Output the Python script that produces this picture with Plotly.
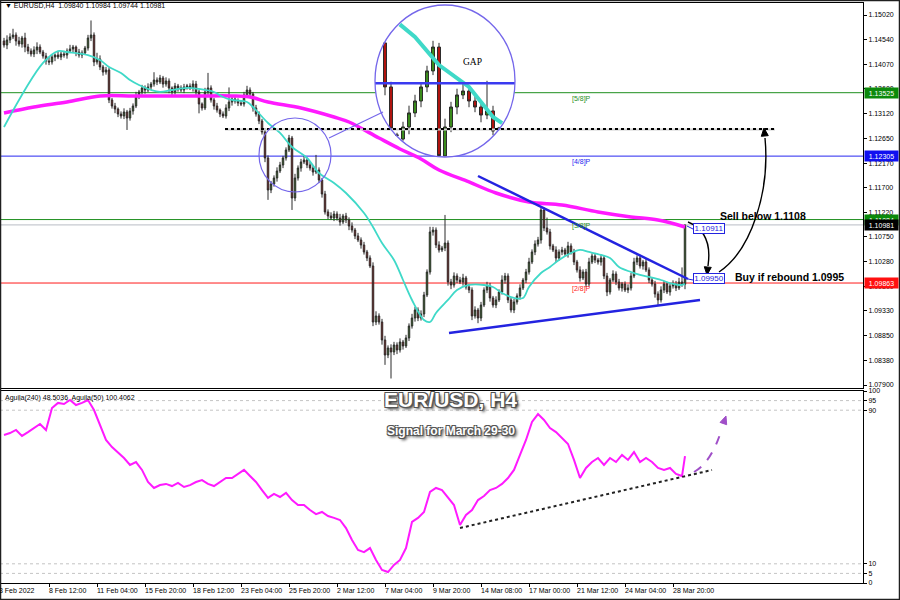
import numpy as np
import plotly.graph_objects as go

# ---------------- data ----------------
close = [
    1.14443, 1.14539, 1.14597, 1.14635, 1.14520, 1.14462, 1.14578, 1.14404, 1.14327, 1.14270,
    1.14347, 1.14404, 1.14308, 1.14231, 1.14135, 1.14116, 1.14212, 1.14250, 1.14212, 1.14270,
    1.14250, 1.14327, 1.14366, 1.14404, 1.14308, 1.14250, 1.14289, 1.14385, 1.14578, 1.14635,
    1.14116, 1.14173, 1.14020, 1.13923, 1.13962, 1.13385, 1.13269, 1.13211, 1.13115, 1.13077,
    1.13154, 1.13038, 1.13173, 1.13269, 1.13462, 1.13539, 1.13616, 1.13577, 1.13635, 1.13692,
    1.13769, 1.13731, 1.13808, 1.13692, 1.13750, 1.13616, 1.13539, 1.13654, 1.13616, 1.13577,
    1.13635, 1.13654, 1.13616, 1.13692, 1.13539, 1.13308, 1.13231, 1.13539, 1.13616, 1.13385,
    1.13269, 1.13192, 1.13115, 1.13077, 1.13231, 1.13346, 1.13404, 1.13365, 1.13327, 1.13308,
    1.13481, 1.13577, 1.13500, 1.13231, 1.13115, 1.12981, 1.12769, 1.12269, 1.11653, 1.11768,
    1.11884, 1.12019, 1.12134, 1.12269, 1.12423, 1.12653, 1.11499, 1.11884, 1.12076, 1.12192,
    1.12230, 1.12134, 1.12076, 1.11999, 1.12038, 1.11845, 1.11576, 1.11230, 1.11153, 1.11114,
    1.11191, 1.11114, 1.11037, 1.11153, 1.11076, 1.10960, 1.10883, 1.10768, 1.10691, 1.10595,
    1.10460, 1.10345, 1.10191, 1.09113, 1.09229, 1.09113, 1.08767, 1.08478, 1.08613, 1.08536,
    1.08671, 1.08575, 1.08728, 1.08652, 1.08806, 1.09036, 1.09190, 1.09344, 1.09190, 1.09267,
    1.09633, 1.10075, 1.10845, 1.10883, 1.10595, 1.10499, 1.10537, 1.10633, 1.09883, 1.09825,
    1.09998, 1.09921, 1.09883, 1.09960, 1.09787, 1.09729, 1.09229, 1.09344, 1.09190, 1.09440,
    1.09729, 1.09806, 1.09575, 1.09440, 1.09537, 1.09691, 1.09921, 1.09998, 1.09537, 1.09344,
    1.09498, 1.09614, 1.09768, 1.09921, 1.10075, 1.10268, 1.10460, 1.10614, 1.10691, 1.11268,
    1.10922, 1.10845, 1.10576, 1.10499, 1.10345, 1.10460, 1.10499, 1.10422, 1.10576, 1.10460,
    1.10268, 1.10114, 1.09960, 1.10075, 1.09844, 1.10268, 1.10383, 1.10306, 1.10268, 1.10345,
    1.09998, 1.09691, 1.09921, 1.10037, 1.09883, 1.09768, 1.09844, 1.09729, 1.09768, 1.09998,
    1.10268, 1.10345, 1.10191, 1.10268, 1.10114, 1.09921, 1.09844, 1.09652, 1.09537, 1.09729,
    1.09844, 1.09691, 1.09806, 1.09844, 1.09768, 1.09883, 1.09840, 1.10981,
]
first_open = 1.14520

# wick lengths above / below the candle body, in pips
upper_wick_pips = [
    6, 9, 7, 12, 5, 8, 4, 10, 6, 5,
    7, 9, 5, 4, 6, 8, 5, 3, 7, 4,
    6, 5, 8, 4, 3, 6, 5, 4, 6, 28,
    5, 12, 7, 4, 6, 5, 4, 6, 3, 5,
    7, 4, 6, 5, 8, 4, 6, 5, 7, 4,
    15, 5, 6, 4, 7, 5, 3, 6, 4, 5,
    6, 4, 5, 7, 6, 4, 3, 8, 29, 5,
    4, 6, 3, 5, 7, 28, 4, 6, 5, 4,
    6, 8, 5, 4, 6, 5, 4, 7, 5, 6,
    5, 7, 6, 4, 5, 6, 4, 8, 5, 6,
    9, 5, 6, 4, 29, 5, 4, 6, 5, 7,
    6, 5, 8, 4, 6, 5, 7, 4, 6, 5,
    6, 4, 5, 7, 9, 5, 6, 8, 5, 7,
    6, 5, 7, 4, 6, 5, 8, 6, 5, 7,
    6, 5, 10, 6, 5, 7, 4, 54, 5, 6,
    7, 5, 6, 8, 4, 6, 5, 7, 4, 6,
    5, 8, 6, 4, 7, 5, 9, 6, 5, 4,
    6, 5, 7, 4, 6, 8, 5, 7, 6, 6,
    5, 20, 6, 4, 7, 5, 6, 4, 8, 5,
    6, 4, 7, 5, 6, 8, 5, 6, 4, 7,
    5, 6, 4, 7, 5, 6, 4, 5, 7, 6,
    8, 5, 6, 4, 7, 5, 4, 6, 5, 7,
    6, 4, 5, 7, 6, 8, 28, 0.3,
]
lower_wick_pips = [
    5, 8, 6, 4, 9, 5, 7, 10, 6, 5,
    6, 8, 4, 5, 7, 6, 5, 8, 4, 6,
    5, 7, 4, 6, 8, 5, 6, 4, 5, 6,
    8, 5, 6, 7, 5, 6, 5, 8, 6, 5,
    6, 23, 5, 7, 4, 6, 5, 7, 4, 6,
    5, 6, 4, 7, 5, 10, 6, 5, 7, 4,
    6, 5, 4, 7, 6, 18, 5, 4, 6, 5,
    7, 5, 6, 4, 5, 6, 7, 5, 6, 4,
    5, 6, 4, 7, 5, 6, 5, 8, 19, 6,
    5, 7, 4, 6, 5, 4, 23, 6, 5, 7,
    4, 6, 5, 7, 4, 6, 7, 5, 6, 4,
    6, 5, 7, 4, 6, 8, 5, 6, 4, 7,
    5, 6, 4, 8, 6, 5, 9, 19, 6, 51,
    6, 8, 5, 7, 4, 6, 5, 7, 6, 5,
    6, 4, 5, 7, 6, 5, 4, 6, 7, 8,
    5, 6, 4, 7, 5, 6, 8, 5, 10, 6,
    4, 6, 7, 5, 6, 4, 5, 7, 6, 5,
    6, 5, 7, 4, 6, 5, 4, 6, 5, 7,
    6, 5, 7, 4, 8, 5, 6, 4, 7, 5,
    6, 5, 7, 4, 6, 5, 4, 6, 5, 7,
    6, 8, 5, 4, 6, 5, 7, 4, 6, 5,
    4, 6, 5, 7, 4, 6, 5, 7, 10, 5,
    6, 4, 7, 5, 6, 4, 5, 9.6,
]

# fast moving average (turquoise), sampled at bar indices
ma_fast_bar = [0, 13, 18, 21, 28, 32, 35, 39, 42, 45, 49, 52, 56, 61, 65, 70, 73, 76, 81, 83,
               88, 92, 96, 101, 105, 110, 114, 120, 123, 126, 130, 133, 136, 140, 142, 144, 148,
               151, 155, 160, 163, 166, 170, 173, 175, 179, 182, 185, 189, 192, 195, 199, 202,
               205, 209, 212, 215, 219, 222, 225, 227]
ma_fast = [1.12865, 1.14097, 1.14327, 1.14308, 1.14250, 1.14154, 1.14020, 1.13904, 1.13769,
           1.13673, 1.13577, 1.13539, 1.13577, 1.13616, 1.13596, 1.13539, 1.13442, 1.13385,
           1.13346, 1.13250, 1.12942, 1.12750, 1.12480, 1.12269, 1.11980, 1.11788, 1.11595,
           1.11210, 1.10941, 1.10633, 1.10306, 1.09921, 1.09537, 1.09152, 1.09113, 1.09286,
           1.09537, 1.09729, 1.09825, 1.09825, 1.09787, 1.09671, 1.09575, 1.09575, 1.09787,
           1.10056, 1.10171, 1.10306, 1.10441, 1.10499, 1.10460, 1.10403, 1.10345, 1.10171,
           1.10075, 1.10018, 1.09979, 1.09921, 1.09863, 1.09825, 1.09844]

# slow moving average (magenta)
ma_slow_bar = [0, 10, 21, 32, 43, 54, 65, 76, 82, 88, 99, 110, 115, 125, 132, 139, 145, 155,
               164, 175, 186, 198, 209, 218, 227]
ma_slow = [1.13134, 1.13250, 1.13346, 1.13462, 1.13462, 1.13462, 1.13462, 1.13462, 1.13442,
           1.13346, 1.13231, 1.13058, 1.12961, 1.12653, 1.12442, 1.12250, 1.12038, 1.11807,
           1.11595, 1.11422, 1.11364, 1.11230, 1.11134, 1.11076, 1.10941]

# oscillator (Aguila), every second bar plus the last one
osc_bar = list(range(0, 228, 2)) + [227]
osc = [77.1, 78.1, 79.7, 76.6, 78.6, 80.7, 82.8, 79.7, 91.1, 93.8,
       93.2, 95.3, 92.7, 93.8, 95.3, 90.1, 82.3, 74.5, 70.8, 68.2,
       65.1, 61.5, 63.0, 58.9, 52.6, 49.5, 51.0, 51.6, 50.5, 52.1,
       50.0, 51.0, 52.6, 53.6, 51.6, 50.5, 52.6, 54.7, 54.7, 56.8,
       58.9, 55.7, 52.6, 48.4, 44.3, 46.4, 44.8, 46.9, 43.2, 40.6,
       40.6, 38.0, 35.9, 37.0, 34.9, 33.9, 32.8, 28.6, 22.4, 17.2,
       16.1, 18.2, 12.0, 6.8, 5.7, 9.4, 12.0, 18.2, 31.8, 33.9,
       37.0, 47.4, 49.5, 48.4, 44.3, 40.6, 30.2, 35.4, 38.0, 43.2,
       45.3, 48.4, 49.5, 51.6, 54.7, 58.9, 66.7, 74.5, 83.9, 88.0,
       84.9, 80.7, 78.6, 75.5, 72.4, 64.1, 54.7, 59.9, 63.0, 65.1,
       61.5, 65.1, 63.0, 66.7, 64.1, 68.2, 63.0, 65.1, 63.0, 59.9,
       58.9, 59.9, 56.8, 55.7, 66.1]

price_ticks = [1.15020, 1.14540, 1.14070, 1.13600, 1.13120, 1.12650, 1.12170, 1.11700,
               1.11220, 1.10750, 1.10280, 1.09800, 1.09330, 1.08850, 1.08380, 1.07900]
osc_ticks = [0, 5, 10, 90, 95, 100]
date_labels = ["8 Feb 12:00", "11 Feb 04:00", "15 Feb 20:00", "18 Feb 12:00", "23 Feb 04:00",
               "25 Feb 20:00", "2 Mar 12:00", "7 Mar 04:00", "9 Mar 20:00", "14 Mar 08:00",
               "17 Mar 00:00", "21 Mar 12:00", "24 Mar 04:00", "28 Mar 20:00"]
first_date_label = "3 Feb 2022"

# Murrey-math style levels: (name, price, colour)
levels = [("[5/8]P", 1.13525, "#1f8f1f"), ("[4/8]P", 1.12305, "#2727f0"),
          ("[3/8]P", 1.11084, "#1f8f1f"), ("[2/8]P", 1.09863, "#ff1a1a")]
bid_price = 1.10981
gap_level = 1.12827
sell_level = 1.10911
buy_level = 1.09950

# ---------------- derived OHLC ----------------
n = len(close)
bars = np.arange(n)
c = np.array(close)
o = np.array([first_open] + close[:-1])
h = np.maximum(o, c) + np.array(upper_wick_pips) / 1e4
l = np.minimum(o, c) - np.array(lower_wick_pips) / 1e4

# ---------------- geometry helpers ----------------
FIG_W, FIG_H = 900, 600
ML, MR, MT, MB = 0, 37, 3, 17
PW, PH = FIG_W - ML - MR, FIG_H - MT - MB


def PX(x):
    return (x - ML) / PW


def PY(y):
    return 1 - (y - MT) / PH


BAR0_PX, BAR_PX = 4, 3
x_range = [(0 - BAR0_PX) / BAR_PX, (PW - BAR0_PX) / BAR_PX]
MAIN_TOP, MAIN_BOT = 3, 388
P_TOP, P_BOT = 1.15251, 1.07843
OSC_TOP, OSC_BOT = 391, 583


def bar_at(xpx):
    return (xpx - BAR0_PX) / BAR_PX


def price_at(ypx):
    return P_TOP - (ypx - MAIN_TOP) * (P_TOP - P_BOT) / (MAIN_BOT - MAIN_TOP)


def paper_path(points, cmd):
    pts = [f"{PX(x):.5f},{PY(y):.5f}" for x, y in points]
    return "M " + pts[0] + f" {cmd} " + " ".join(pts[1:])


def head(tip, direction, length=8, half=3.5):
    dx, dy = direction
    norm = (dx * dx + dy * dy) ** 0.5
    dx, dy = dx / norm, dy / norm
    bx, by = tip[0] - dx * length, tip[1] - dy * length
    p1 = (bx - dy * half, by + dx * half)
    p2 = (bx + dy * half, by - dx * half)
    pts = [tip, p1, p2]
    return "M " + " L ".join(f"{PX(x):.5f},{PY(y):.5f}" for x, y in pts) + " Z"


fig = go.Figure()

CANDLE_STYLE = dict(
    increasing=dict(fillcolor="#3b8e1c", line=dict(color="#2a2a2a", width=1)),
    decreasing=dict(fillcolor="#b3140f", line=dict(color="#2a2a2a", width=1)),
    whiskerwidth=0, hoverinfo="skip", showlegend=False,
)

# main candles and moving averages
fig.add_trace(go.Candlestick(x=bars, open=o, high=h, low=l, close=c,
                             xaxis="x", yaxis="y", **CANDLE_STYLE))
fig.add_trace(go.Scatter(x=ma_slow_bar, y=ma_slow, mode="lines", line_shape="spline",
                         line=dict(color="#ff1aff", width=3.5), xaxis="x", yaxis="y",
                         hoverinfo="skip"))
fig.add_trace(go.Scatter(x=ma_fast_bar, y=ma_fast, mode="lines", line_shape="spline",
                         line=dict(color="#3fd9c8", width=1.8), xaxis="x", yaxis="y",
                         hoverinfo="skip"))

# oscillator
fig.add_trace(go.Scatter(x=osc_bar, y=osc, mode="lines", line=dict(color="#ff1aff", width=2),
                         xaxis="x2", yaxis="y2", hoverinfo="skip"))

# ---------------- magnified inset ("GAP" circle) ----------------
IN_L, IN_R, IN_T, IN_B = 375, 515, 5, 157
MAG = 2.0
src_cx, src_cy = 295, 155
in_half_w = (IN_R - IN_L) / 2 / MAG / BAR_PX
in_xc = bar_at(src_cx)
inset_x = [in_xc - in_half_w, in_xc + in_half_w]
px_per_price = (MAIN_BOT - MAIN_TOP) / (P_TOP - P_BOT)
in_yc = price_at(src_cy)
in_half_h = (IN_B - IN_T) / 2 / MAG / px_per_price
inset_y = [in_yc - in_half_h, in_yc + in_half_h]
RX, RY = (IN_R - IN_L) / 2, (IN_B - IN_T) / 2


def to_inset_px(b, p):
    return ((b - in_xc) * BAR_PX * MAG, (p - in_yc) * px_per_price * MAG * RX / RY)


def from_inset_px(u, v):
    return (in_xc + u / (BAR_PX * MAG), in_yc + v / (px_per_price * MAG * RX / RY))


ib, io, ih, il, ic = [], [], [], [], []
for i in range(n):
    u = (i - in_xc) * BAR_PX * MAG
    if abs(u) >= RX - 1.5:
        continue
    half = (RX * RX - u * u) ** 0.5 - 1
    lo = from_inset_px(u, -half)[1]
    hi = from_inset_px(u, half)[1]
    if h[i] < lo or l[i] > hi:
        continue
    ib.append(i)
    io.append(min(max(o[i], lo), hi))
    ic.append(min(max(c[i], lo), hi))
    ih.append(min(h[i], hi))
    il.append(max(l[i], lo))

fig.add_trace(go.Candlestick(x=ib, open=io, high=ih, low=il, close=ic,
                             xaxis="x3", yaxis="y3", **CANDLE_STYLE))

# turquoise average inside the inset, clipped to the circle
us, vs = zip(*[to_inset_px(b, p) for b, p in zip(ma_fast_bar, ma_fast)])
cu, cv = [], []
for k in range(len(us) - 1):
    x0, y0, x1, y1 = us[k], vs[k], us[k + 1], vs[k + 1]
    dx, dy = x1 - x0, y1 - y0
    a = dx * dx + dy * dy
    b = 2 * (x0 * dx + y0 * dy)
    cc = x0 * x0 + y0 * y0 - (RX - 1) ** 2
    disc = b * b - 4 * a * cc
    if a == 0 or disc <= 0:
        continue
    s = disc ** 0.5
    t0, t1 = max(0.0, (-b - s) / (2 * a)), min(1.0, (-b + s) / (2 * a))
    if t0 >= t1:
        continue
    for t in (t0, t1):
        bb, pp = from_inset_px(x0 + t * dx, y0 + t * dy)
        cu.append(bb)
        cv.append(pp)
fig.add_trace(go.Scatter(x=cu, y=cv, mode="lines", line=dict(color="#3fd9c8", width=4),
                         xaxis="x3", yaxis="y3", hoverinfo="skip"))

shapes = []
annotations = []

# white disc behind the inset data
shapes.append(dict(type="circle", xref="x3", yref="y3", x0=inset_x[0], x1=inset_x[1],
                   y0=inset_y[0], y1=inset_y[1], fillcolor="white", line=dict(width=0),
                   layer="below"))
# [4/8] level seen through the inset
u_lv, v_lv = to_inset_px(0, levels[1][1])
half_chord = (RX * RX - v_lv * v_lv) ** 0.5
shapes.append(dict(type="line", xref="x3", yref="y3",
                   x0=from_inset_px(-half_chord, 0)[0], x1=from_inset_px(half_chord, 0)[0],
                   y0=levels[1][1], y1=levels[1][1], line=dict(color="#3a3af0", width=2.5),
                   layer="above"))

# level lines across the price panel
for name, price, col in levels:
    shapes.append(dict(type="line", xref="paper", yref="y", x0=0, x1=1, y0=price, y1=price,
                       line=dict(color=col, width=1), layer="below"))
    annotations.append(dict(x=bar_at(570), y=price, xref="x", yref="y", text=name,
                            showarrow=False, xanchor="left", yanchor="middle", yshift=-6,
                            font=dict(family="Liberation Sans", size=7, color=col)))
shapes.append(dict(type="line", xref="paper", yref="y", x0=0, x1=1, y0=bid_price, y1=bid_price,
                   line=dict(color="#b8bcc4", width=1), layer="below"))

# dotted gap line
shapes.append(dict(type="line", xref="x", yref="y", x0=bar_at(225), x1=bar_at(775),
                   y0=gap_level - 0.00012, y1=gap_level - 0.00012,
                   line=dict(color="#d0d0d0", width=2), layer="above"))
shapes.append(dict(type="line", xref="x", yref="y", x0=bar_at(225), x1=bar_at(775),
                   y0=gap_level, y1=gap_level, line=dict(color="black", width=2, dash="dot"),
                   layer="above"))

# triangle trend lines
shapes.append(dict(type="line", xref="x", yref="y", x0=bar_at(478), y0=price_at(176),
                   x1=bar_at(688), y1=price_at(279), line=dict(color="#2323e0", width=2.5),
                   layer="above"))
shapes.append(dict(type="line", xref="x", yref="y", x0=bar_at(449), y0=price_at(333),
                   x1=bar_at(700), y1=price_at(300), line=dict(color="#2323e0", width=2.5),
                   layer="above"))

# circles and connector
CIRC = "#7466ea"
shapes.append(dict(type="circle", xref="paper", yref="paper", x0=PX(259), x1=PX(331),
                   y0=PY(192), y1=PY(118), line=dict(color=CIRC, width=1.2), layer="above"))
shapes.append(dict(type="circle", xref="paper", yref="paper", x0=PX(IN_L), x1=PX(IN_R),
                   y0=PY(IN_B), y1=PY(IN_T), line=dict(color=CIRC, width=1.3), layer="above"))
shapes.append(dict(type="line", xref="paper", yref="paper", x0=PX(329), y0=PY(138),
                   x1=PX(383), y1=PY(112), line=dict(color=CIRC, width=1.1), layer="above"))

# curved arrows on the price panel
shapes.append(dict(type="path", xref="paper", yref="paper",
                   path=paper_path([(688, 222), (713, 232), (708, 266)], "Q"),
                   line=dict(color="black", width=1.4), layer="above"))
shapes.append(dict(type="path", xref="paper", yref="paper", path=head((707, 275), (-0.1, 1)),
                   fillcolor="black", line=dict(color="black", width=1), layer="above"))
shapes.append(dict(type="path", xref="paper", yref="paper",
                   path=paper_path([(719, 272), (752, 250), (770, 190), (765, 138)], "C"),
                   line=dict(color="black", width=1.4), layer="above"))
shapes.append(dict(type="path", xref="paper", yref="paper", path=head((764, 128), (-0.1, -1)),
                   fillcolor="black", line=dict(color="black", width=1), layer="above"))

# leader lines to the value boxes
shapes.append(dict(type="line", xref="paper", yref="paper", x0=PX(687), y0=PY(226),
                   x1=PX(693), y1=PY(229), line=dict(color="#2323e0", width=1), layer="above"))
shapes.append(dict(type="line", xref="paper", yref="paper", x0=PX(688), y0=PY(279),
                   x1=PX(693), y1=PY(280), line=dict(color="#2323e0", width=1), layer="above"))

# oscillator guide levels
for lv in (95, 90, 10, 5):
    shapes.append(dict(type="line", xref="paper", yref="y2", x0=0, x1=1, y0=lv, y1=lv,
                       line=dict(color="#c4c4c4", width=1, dash="dot"), layer="below"))

# oscillator support line and projected move
osc_per_px = 100 / (OSC_BOT - OSC_TOP)
shapes.append(dict(type="line", xref="x2", yref="y2", x0=bar_at(460),
                   y0=(OSC_BOT - 528) * osc_per_px, x1=bar_at(712),
                   y1=(OSC_BOT - 470) * osc_per_px, line=dict(color="#222", width=2, dash="dot"),
                   layer="above"))
shapes.append(dict(type="path", xref="paper", yref="paper",
                   path=paper_path([(694, 472), (712, 462), (722, 428)], "Q"),
                   line=dict(color="#a04fc8", width=2, dash="dash"), layer="above"))
shapes.append(dict(type="path", xref="paper", yref="paper", path=head((726, 416), (0.35, -1)),
                   fillcolor="#a04fc8", line=dict(color="#a04fc8", width=1), layer="above"))

# outer frame
shapes.append(dict(type="rect", xref="paper", yref="paper", x0=PX(0.5), x1=PX(899.5),
                   y0=PY(599.5), y1=PY(0.5), line=dict(color="#202020", width=1.5),
                   layer="above"))

# ---------------- text ----------------
SMALL = dict(family="Liberation Sans", size=7, color="black")
annotations.append(dict(x=PX(3), y=PY(6), xref="paper", yref="paper", xanchor="left",
                        yanchor="middle", showarrow=False, font=SMALL,
                        text="▼ EURUSD,H4  1.09840 1.10984 1.09744 1.10981"))
annotations.append(dict(x=PX(3), y=PY(398), xref="paper", yref="paper", xanchor="left",
                        yanchor="middle", showarrow=False, font=SMALL,
                        text="Aguila(240) 48.5036  Aguila(50) 100.4062"))
annotations.append(dict(x=PX(472), y=PY(55), xref="paper", yref="paper", showarrow=False,
                        text="GAP", font=dict(family="Liberation Serif", size=9.5,
                                              color="black")))

# coloured price tags on the right scale
tags = [(levels[0][1], "#0b8a0b"), (levels[1][1], "#1010f0"), (levels[2][1], "#0b8a0b"),
        (bid_price, "#000000"), (levels[3][1], "#ff1010")]
for price, col in tags:
    annotations.append(dict(x=1, y=price, xref="paper", yref="y", xanchor="left",
                            yanchor="middle", xshift=1, showarrow=False, text=f"{price:.5f}",
                            bgcolor=col, width=33, height=10, borderpad=0, align="center",
                            font=dict(family="Liberation Sans", size=7, color="white")))

BOLD = dict(family="Liberation Sans", size=10.5, color="black", weight="bold")
annotations.append(dict(x=PX(718), y=PY(216), xref="paper", yref="paper", xanchor="left",
                        yanchor="middle", showarrow=False, text="Sell below 1.1108", font=BOLD))
annotations.append(dict(x=PX(733), y=PY(277), xref="paper", yref="paper", xanchor="left",
                        yanchor="middle", showarrow=False, text="Buy if rebound 1.0995",
                        font=BOLD))
for val in (sell_level, buy_level):
    annotations.append(dict(x=PX(693), y=val, xref="paper", yref="y", xanchor="left",
                            yanchor="middle", showarrow=False, text=f"{val:.5f}",
                            bordercolor="#2323e0", borderwidth=1, borderpad=0, bgcolor="white",
                            width=30, height=9, align="center",
                            font=dict(family="Liberation Sans", size=8, color="#2323e0")))

SHADOW = "-1px -1px 0 #555, 1px -1px 0 #555, -1px 1px 0 #555, 1px 1px 0 #555, 2px 2px 3px #111"
annotations.append(dict(x=PX(450), y=PY(413), xref="paper", yref="paper", showarrow=False,
                        text="EUR/USD, H4",
                        font=dict(family="Liberation Sans", size=21, color="white",
                                  weight="bold", shadow=SHADOW)))
annotations.append(dict(x=PX(451), y=PY(440), xref="paper", yref="paper", showarrow=False,
                        text="Signal for March 29-30",
                        font=dict(family="Liberation Sans", size=12, color="white",
                                  weight="bold", shadow=SHADOW)))

# time scale labels, left-aligned at each tick
date_tick_bars = [15 + 16 * k for k in range(len(date_labels))]
for b, lab in zip(date_tick_bars, date_labels):
    annotations.append(dict(x=b, y=PY(590), xref="x2", yref="paper", xanchor="left",
                            yanchor="middle", xshift=-2, showarrow=False, text=lab, font=SMALL))
annotations.append(dict(x=PX(0), y=PY(590), xref="paper", yref="paper", xanchor="left",
                        yanchor="middle", showarrow=False, text=first_date_label, font=SMALL,
                        xshift=-3))

AX = dict(showgrid=False, zeroline=False, showline=True, mirror=True, linecolor="black",
          linewidth=1, fixedrange=True)
fig.update_layout(
    width=FIG_W, height=FIG_H,
    margin=dict(l=ML, r=MR, t=MT, b=MB),
    paper_bgcolor="white", plot_bgcolor="rgba(0,0,0,0)",
    showlegend=False, hovermode=False,
    xaxis=dict(domain=[0, 1], anchor="y", range=x_range, showticklabels=False,
               rangeslider=dict(visible=False), ticks="", **AX),
    yaxis=dict(domain=[PY(MAIN_BOT), 1], anchor="x", side="right", range=[P_BOT, P_TOP],
               tickvals=price_ticks, tickformat=".5f", ticks="outside", ticklen=3,
               tickcolor="black", tickfont=SMALL, **AX),
    xaxis2=dict(domain=[0, 1], anchor="y2", range=x_range, tickvals=date_tick_bars,
                ticks="outside", ticklen=3, tickcolor="black", showticklabels=False,
                rangeslider=dict(visible=False), **AX),
    yaxis2=dict(domain=[0, PY(OSC_TOP)], anchor="x2", side="right", range=[0, 100],
                tickvals=osc_ticks, ticks="outside", ticklen=3, tickcolor="black",
                tickfont=SMALL, **AX),
    xaxis3=dict(domain=[PX(IN_L), PX(IN_R)], anchor="y3", range=inset_x, visible=False,
                rangeslider=dict(visible=False), fixedrange=True),
    yaxis3=dict(domain=[PY(IN_B), PY(IN_T)], anchor="x3", range=inset_y, visible=False,
                fixedrange=True),
    shapes=shapes,
    annotations=annotations,
)

fig.write_html("out.html")
